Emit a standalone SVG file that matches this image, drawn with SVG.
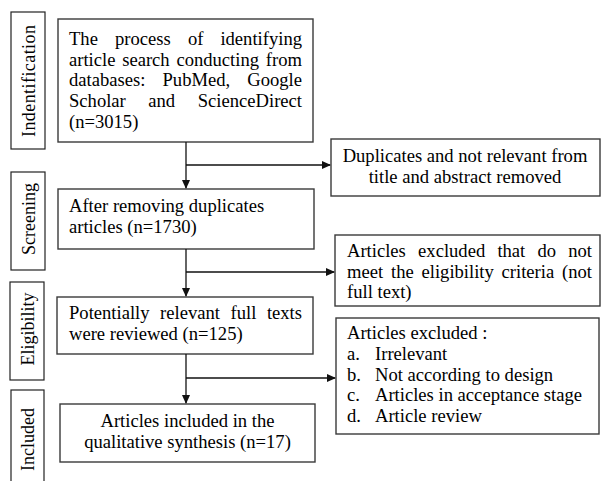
<svg xmlns="http://www.w3.org/2000/svg" width="601" height="481" viewBox="0 0 601 481">
<style>
.box{fill:#fff;stroke:#3a3a3a;stroke-width:1.4}
.lbl{fill:#fff;stroke:#222;stroke-width:1.2}
text{font-family:"Liberation Serif","Times New Roman",serif;font-size:18.6px;fill:#000}
.v{text-anchor:middle;font-size:18px}
.c{text-anchor:middle}
.e{text-anchor:end}
.con{stroke:#111;stroke-width:1.3;fill:none}
</style>
<defs>
<marker id="ah" markerWidth="9" markerHeight="8" refX="8" refY="4" orient="auto" markerUnits="userSpaceOnUse">
<path d="M0,0 L9,4 L0,8 Z" fill="#111"/>
</marker>
</defs>
<rect width="601" height="481" fill="#fff"/>
<g id="label-identification"><rect class="lbl" x="11" y="12" width="34" height="137"/><text class="v" transform="translate(34.5,81) rotate(-90)" textLength="112" lengthAdjust="spacing">Indentification</text></g>
<g id="label-screening"><rect class="lbl" x="11" y="172" width="34" height="98"/><text class="v" transform="translate(34.5,219) rotate(-90)">Screening</text></g>
<g id="label-eligibility"><rect class="lbl" x="10" y="282" width="34" height="98"/><text class="v" transform="translate(34,329) rotate(-90)">Eligibility</text></g>
<g id="label-included"><rect class="lbl" x="11" y="390" width="33" height="100"/><text class="v" transform="translate(34,439.5) rotate(-90)">Included</text></g>

<g id="identification">
<rect class="box" x="58" y="19" width="255" height="123"/>
<text y="45"><tspan x="69">The</tspan><tspan x="115">process</tspan><tspan x="188">of</tspan><tspan x="302" class="e">identifying</tspan></text>
<text y="66"><tspan x="69">article</tspan><tspan x="122.2">search</tspan><tspan x="176.4">conducting</tspan><tspan x="302" class="e">from</tspan></text>
<text y="86"><tspan x="69">databases:</tspan><tspan x="162.5">PubMed,</tspan><tspan x="302" class="e">Google</tspan></text>
<text y="107"><tspan x="69">Scholar</tspan><tspan x="148.3">and</tspan><tspan x="302" class="e">ScienceDirect</tspan></text>
<text x="69" y="128">(n=3015)</text>
</g>
<g id="duplicates-removed">
<rect class="box" x="331" y="139" width="269" height="57"/>
<text class="c" x="465" y="162">Duplicates and not relevant from</text>
<text class="c" x="465" y="183">title and abstract removed</text>
</g>
<g id="screening">
<rect class="box" x="58" y="189" width="256" height="60"/>
<text x="69" y="212">After removing duplicates</text>
<text x="69" y="233">articles (n=1730)</text>
</g>
<g id="excluded-eligibility">
<rect class="box" x="335" y="235" width="265" height="71"/>
<text y="257"><tspan x="347">Articles</tspan><tspan x="418.1">excluded</tspan><tspan x="497.4">that</tspan><tspan x="537.5">do</tspan><tspan x="592" class="e">not</tspan></text>
<text y="278"><tspan x="347">meet</tspan><tspan x="391">the</tspan><tspan x="421.5">eligibility</tspan><tspan x="501.6">criteria</tspan><tspan x="592" class="e">(not</tspan></text>
<text x="347" y="298">full text)</text>
</g>
<g id="eligibility">
<rect class="box" x="57" y="297" width="256" height="57"/>
<text y="319"><tspan x="69">Potentially</tspan><tspan x="160.1">relevant</tspan><tspan x="230.5">full</tspan><tspan x="302" class="e">texts</tspan></text>
<text x="69" y="340">were reviewed (n=125)</text>
</g>
<g id="excluded-list">
<rect class="box" x="336" y="318" width="263" height="116"/>
<text x="347" y="339">Articles excluded :</text>
<text x="347" y="360">a.</text><text x="375" y="360">Irrelevant</text>
<text x="347" y="381">b.</text><text x="375" y="381">Not according to design</text>
<text x="347" y="401">c.</text><text x="375" y="401">Articles in acceptance stage</text>
<text x="347" y="422">d.</text><text x="375" y="422">Article review</text>
</g>
<g id="included">
<rect class="box" x="60" y="404" width="255" height="58"/>
<text class="c" x="187.5" y="427">Articles included in the</text>
<text class="c" x="187.5" y="448">qualitative synthesis (n=17)</text>
</g>

<g id="connectors">
<path class="con" d="M186,142 V188" marker-end="url(#ah)"/>
<path class="con" d="M186,165 H330" marker-end="url(#ah)"/>
<path class="con" d="M186,249 V296" marker-end="url(#ah)"/>
<path class="con" d="M186,272 H334" marker-end="url(#ah)"/>
<path class="con" d="M186,354 V403" marker-end="url(#ah)"/>
<path class="con" d="M186,378 H335" marker-end="url(#ah)"/>
</g>
</svg>
